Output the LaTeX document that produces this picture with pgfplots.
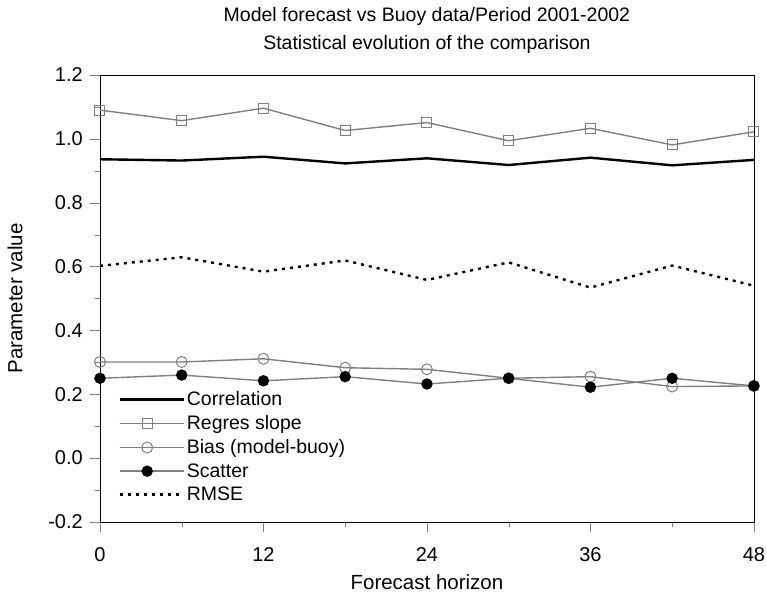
\documentclass[border=0pt]{standalone}
\usepackage{pgfplots}
\pgfplotsset{compat=1.18}
\usepackage{fontspec}
\setmainfont{Liberation Sans}

\begin{document}
\begin{tikzpicture}
    \begin{axis}[
        scale only axis,
        width=654pt,
        height=447pt,
        xmin=0, xmax=48,
        ymin=-0.2, ymax=1.2,
        xtick={0,12,...,48},
        ytick={-0.2,0,...,1.2},
        minor x tick num=1,
        minor y tick num=1,
        tick align=outside,
        major tick length=10pt,
        minor tick length=5pt,
        xtick pos=bottom,
        ytick pos=left,
        /pgf/number format/assume math mode=true,
        yticklabel style={xshift=-5pt, /pgf/number format/.cd, fixed, fixed zerofill, precision=1},
        ticklabel style={font=\fontsize{20}{22}\selectfont, inner sep=2pt},
        xticklabel style={yshift=-13pt},
        xlabel={Forecast horizon},
        ylabel={Parameter value},
        xlabel style={font=\fontsize{20.5}{22}\selectfont, at={(0.5,0)}, anchor=north, yshift=-49pt},
        ylabel style={font=\fontsize{20.5}{22}\selectfont, at={(0,0.5)}, anchor=south, yshift=74pt},
        title={Model forecast vs Buoy data/Period 2001-2002\\Statistical evolution of the comparison},
        title style={font=\fontsize{19.5}{28}\selectfont, align=center, at={(0.5,1)}, anchor=south, yshift=15pt, inner sep=0pt},
        legend style={draw=none, fill=none, at={(0.028,0.296)}, anchor=north west,
            font=\fontsize{19.5}{20}\selectfont, row sep=4.3pt, inner sep=0pt},
        legend cell align=left,
        every axis legend/.append style={nodes={inner sep=2pt}},
        legend image code/.code={
            \path (0pt,0pt) -- (64pt,0pt);
            \draw[#1] (0pt,0pt) -- (55pt,0pt);
            \draw[#1, only marks] plot coordinates {(27.5pt,0pt)};
        },
    ]
        % Correlation
        \addplot[black, line width=2.4pt, mark=none] coordinates {
            (0,0.936) (6,0.932) (12,0.944) (18,0.923) (24,0.939)
            (30,0.918) (36,0.941) (42,0.917) (48,0.934)};
        % Regres slope
        \addplot[gray, line width=1.4pt, mark=square, mark size=5pt,
            mark options={fill=white, line width=1pt}] coordinates {
            (0,1.090) (6,1.057) (12,1.096) (18,1.026) (24,1.051)
            (30,0.994) (36,1.033) (42,0.981) (48,1.022)};
        % Bias (model-buoy)
        \addplot[gray, line width=1.4pt, mark=o, mark size=5.5pt,
            mark options={fill=white, line width=1pt}] coordinates {
            (0,0.301) (6,0.301) (12,0.311) (18,0.283) (24,0.278)
            (30,0.250) (36,0.255) (42,0.224) (48,0.226)};
        % Scatter
        \addplot[gray, line width=1.4pt, mark=*, mark size=5pt,
            mark options={black, fill=black}] coordinates {
            (0,0.250) (6,0.260) (12,0.242) (18,0.255) (24,0.232)
            (30,0.250) (36,0.222) (42,0.250) (48,0.226)};
        % RMSE
        \addplot[black, line width=2.4pt, dash pattern=on 3pt off 5pt, mark=none] coordinates {
            (0,0.602) (6,0.629) (12,0.584) (18,0.619) (24,0.558)
            (30,0.613) (36,0.534) (42,0.603) (48,0.540)};
        \legend{Correlation, Regres slope, Bias (model-buoy), Scatter, RMSE}
    \end{axis}
    \path (-100pt,-75pt) rectangle (667pt,522pt);
\end{tikzpicture}
\end{document}
